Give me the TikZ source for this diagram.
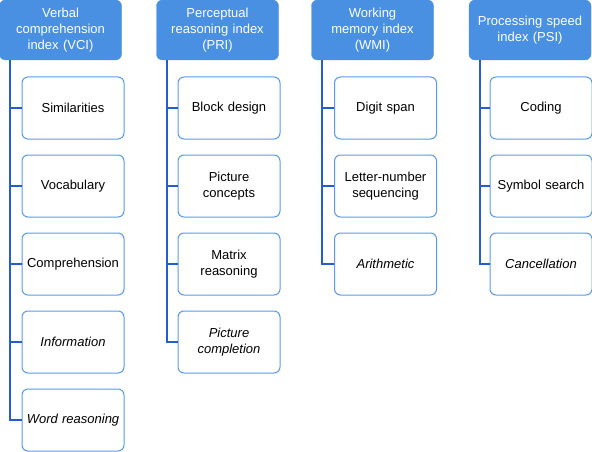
\documentclass[tikz,border=0pt]{standalone}
\usepackage{fontspec}
\setmainfont{Liberation Sans}
\definecolor{headblue}{RGB}{74,144,226}
\definecolor{edgeblue}{RGB}{88,154,238}
\definecolor{linkblue}{RGB}{36,94,206}

\begin{document}
\begin{tikzpicture}[x=1pt,y=1pt,yscale=-1,xscale=1,
		index/.style={draw=headblue,fill=headblue,rounded corners=6pt,minimum width=121pt,minimum height=60pt,inner sep=2pt,text width=118pt,align=center,text=white,font=\fontsize{13}{16}\selectfont},
		subtest/.style={draw=edgeblue,line width=1pt,fill=white,rounded corners=6pt,minimum width=100pt,minimum height=62pt,inner sep=2pt,text width=98pt,align=center,font=\fontsize{13}{16}\selectfont},
		link/.style={draw=linkblue,line width=2pt}]
		\useasboundingbox (0,0) rectangle (592,452);
		% index boxes
		\node [index] (vci) at (60.5,30) {Verbal\\comprehension\\index (VCI)};
		\node [index] (pri) at (217.5,30) {Perceptual\\reasoning index\\(PRI)};
		\node [index] (wmi) at (372.5,30) {Working\\memory index\\(WMI)};
		\node [index] (psi) at (530,30) {Processing speed\\index (PSI)};
		% subtests
		\node [subtest] (vci1) at (73,108) {Similarities};
		\node [subtest] (vci2) at (73,186) {Vocabulary};
		\node [subtest] (vci3) at (73,264) {Comprehension};
		\node [subtest] (vci4) at (73,342) {\itshape Information};
		\node [subtest] (vci5) at (73,420) {\itshape Word reasoning};
		\node [subtest] (pri1) at (229,108) {Block design};
		\node [subtest] (pri2) at (229,186) {Picture\\concepts};
		\node [subtest] (pri3) at (229,264) {Matrix\\reasoning};
		\node [subtest] (pri4) at (229,342) {\itshape Picture\\completion};
		\node [subtest] (wmi1) at (385.5,108) {Digit span};
		\node [subtest] (wmi2) at (385.5,186) {Letter-number\\sequencing};
		\node [subtest] (wmi3) at (385.5,264) {\itshape Arithmetic};
		\node [subtest] (psi1) at (541,108) {Coding};
		\node [subtest] (psi2) at (541,186) {Symbol search};
		\node [subtest] (psi3) at (541,264) {\itshape Cancellation};
		% connectors
		\foreach \i in {1,...,5}
		\draw [link] ([xshift=11pt]vci.south west) |- (vci\i.west);
		\foreach \i in {1,...,4}
		\draw [link] ([xshift=11pt]pri.south west) |- (pri\i.west);
		\foreach \i in {1,...,3}
		\draw [link] ([xshift=11pt]wmi.south west) |- (wmi\i.west);
		\foreach \i in {1,...,3}
		\draw [link] ([xshift=11pt]psi.south west) |- (psi\i.west);
\end{tikzpicture}
\end{document}
